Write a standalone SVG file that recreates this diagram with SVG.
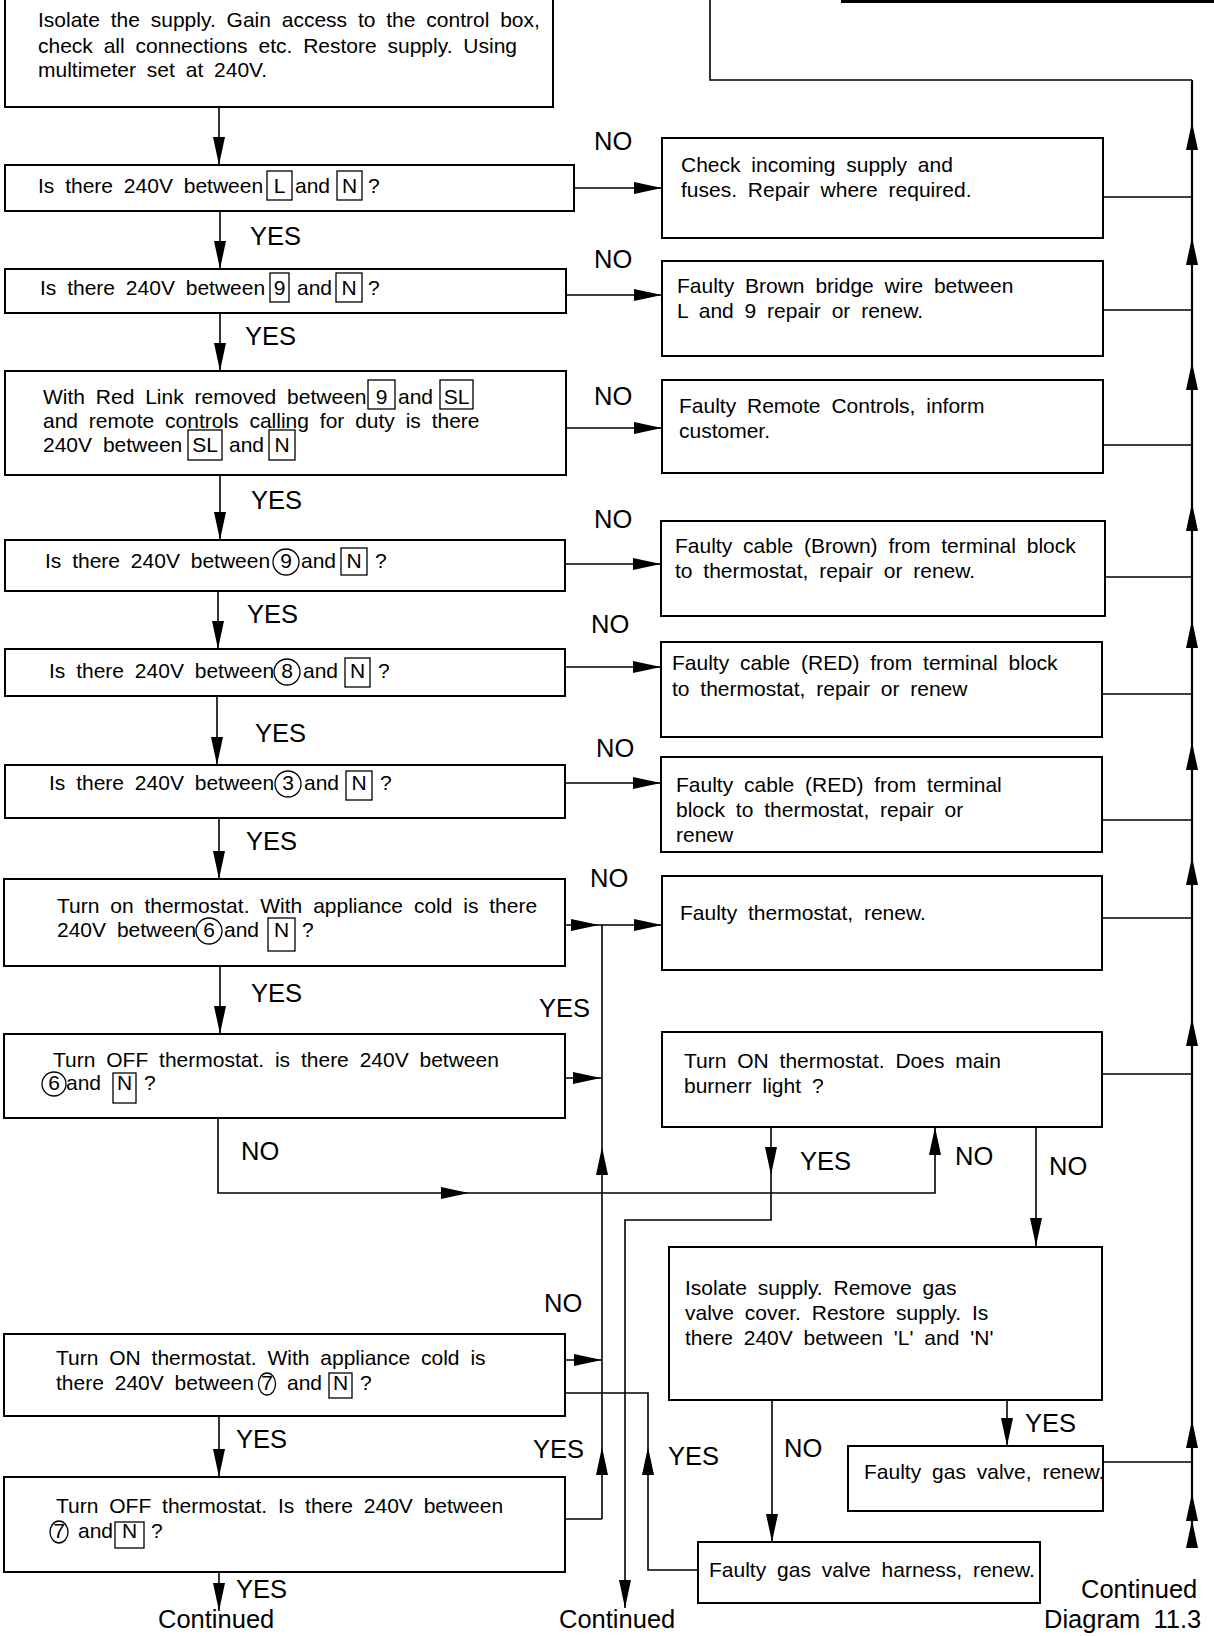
<svg xmlns="http://www.w3.org/2000/svg" xmlns:xlink="http://www.w3.org/1999/xlink" width="1214" height="1636" viewBox="0 0 1214 1636">
<style>
.box{fill:#fff;stroke:#000;stroke-width:2}
.t{font-family:"Liberation Sans",Arial,Helvetica,sans-serif;font-size:21px;word-spacing:5px;fill:#000}
.lb{font-family:"Liberation Sans",Arial,Helvetica,sans-serif;font-size:25.5px;word-spacing:6px;fill:#000}
.m{text-anchor:middle}
.c{fill:none;stroke:#000;stroke-width:1.6}
.cr{fill:none;stroke:#000;stroke-width:2.2}
.tag{fill:none;stroke:#000;stroke-width:1.3}
.ah{fill:#000}
</style>
<defs>
<path id="ah" class="ah" d="M0,0 L-28,-6 L-28,6 Z"/>
</defs>
<rect width="1214" height="1636" fill="#fff"/>

<g id="connectors">
<rect x="841" y="0" width="373" height="3" fill="#000"/>
<polyline class="c" points="710,0 710,80 1192,80"/>
<line class="cr" x1="1192" y1="80" x2="1192" y2="1545"/>
<line class="c" x1="219" y1="107" x2="219" y2="165"/>
<line class="c" x1="220" y1="211" x2="220" y2="269"/>
<line class="c" x1="220" y1="313" x2="220" y2="371"/>
<line class="c" x1="220" y1="475" x2="220" y2="540"/>
<line class="c" x1="218" y1="591" x2="218" y2="649"/>
<line class="c" x1="217" y1="696" x2="217" y2="765"/>
<line class="c" x1="219" y1="818" x2="219" y2="879"/>
<line class="c" x1="220" y1="966" x2="220" y2="1034"/>
<polyline class="c" points="218,1118 218,1193 935,1193 935,1127"/>
<line class="c" x1="219" y1="1416" x2="219" y2="1477"/>
<line class="c" x1="219" y1="1572" x2="219" y2="1611"/>
<line class="c" x1="574" y1="188" x2="662" y2="188"/>
<line class="c" x1="566" y1="295" x2="662" y2="295"/>
<line class="c" x1="566" y1="428" x2="662" y2="428"/>
<line class="c" x1="565" y1="564" x2="661" y2="564"/>
<line class="c" x1="565" y1="667" x2="661" y2="667"/>
<line class="c" x1="565" y1="783" x2="661" y2="783"/>
<line class="c" x1="1103" y1="197" x2="1192" y2="197"/>
<line class="c" x1="1103" y1="310" x2="1192" y2="310"/>
<line class="c" x1="1103" y1="445" x2="1192" y2="445"/>
<line class="c" x1="1105" y1="577" x2="1192" y2="577"/>
<line class="c" x1="1102" y1="694" x2="1192" y2="694"/>
<line class="c" x1="1102" y1="820" x2="1192" y2="820"/>
<line class="c" x1="1102" y1="918" x2="1192" y2="918"/>
<line class="c" x1="1102" y1="1074" x2="1192" y2="1074"/>
<line class="c" x1="1103" y1="1462" x2="1192" y2="1462"/>
<line class="c" x1="565" y1="925" x2="662" y2="925"/>
<line class="c" x1="602" y1="925" x2="602" y2="1519"/>
<line class="c" x1="565" y1="1078" x2="602" y2="1078"/>
<line class="c" x1="565" y1="1360" x2="602" y2="1360"/>
<line class="c" x1="565" y1="1519" x2="602" y2="1519"/>
<polyline class="c" points="771,1127 771,1220 625,1220 625,1608"/>
<line class="c" x1="1036" y1="1127" x2="1036" y2="1247"/>
<line class="c" x1="1007" y1="1400" x2="1007" y2="1446"/>
<line class="c" x1="772" y1="1400" x2="772" y2="1542"/>
<polyline class="c" points="698,1570 648,1570 648,1393 565,1393"/>

<use xlink:href="#ah" transform="translate(219,165) rotate(90)"/>
<use xlink:href="#ah" transform="translate(220,269) rotate(90)"/>
<use xlink:href="#ah" transform="translate(220,371) rotate(90)"/>
<use xlink:href="#ah" transform="translate(220,540) rotate(90)"/>
<use xlink:href="#ah" transform="translate(218,649) rotate(90)"/>
<use xlink:href="#ah" transform="translate(217,765) rotate(90)"/>
<use xlink:href="#ah" transform="translate(219,879) rotate(90)"/>
<use xlink:href="#ah" transform="translate(220,1034) rotate(90)"/>
<use xlink:href="#ah" transform="translate(219,1477) rotate(90)"/>
<use xlink:href="#ah" transform="translate(219,1611) rotate(90)"/>
<use xlink:href="#ah" transform="translate(771,1175) rotate(90)"/>
<use xlink:href="#ah" transform="translate(625,1608) rotate(90)"/>
<use xlink:href="#ah" transform="translate(1036,1246) rotate(90)"/>
<use xlink:href="#ah" transform="translate(1007,1446) rotate(90)"/>
<use xlink:href="#ah" transform="translate(772,1542) rotate(90)"/>

<use xlink:href="#ah" transform="translate(662,188)"/>
<use xlink:href="#ah" transform="translate(662,295)"/>
<use xlink:href="#ah" transform="translate(662,428)"/>
<use xlink:href="#ah" transform="translate(661,564)"/>
<use xlink:href="#ah" transform="translate(661,667)"/>
<use xlink:href="#ah" transform="translate(661,783)"/>
<use xlink:href="#ah" transform="translate(599,925)"/>
<use xlink:href="#ah" transform="translate(662,925)"/>
<use xlink:href="#ah" transform="translate(601,1078)"/>
<use xlink:href="#ah" transform="translate(469,1193)"/>
<use xlink:href="#ah" transform="translate(602,1360)"/>

<use xlink:href="#ah" transform="translate(1192,122) rotate(-90)"/>
<use xlink:href="#ah" transform="translate(1192,237) rotate(-90)"/>
<use xlink:href="#ah" transform="translate(1192,362) rotate(-90)"/>
<use xlink:href="#ah" transform="translate(1192,503) rotate(-90)"/>
<use xlink:href="#ah" transform="translate(1192,620) rotate(-90)"/>
<use xlink:href="#ah" transform="translate(1192,742) rotate(-90)"/>
<use xlink:href="#ah" transform="translate(1192,857) rotate(-90)"/>
<use xlink:href="#ah" transform="translate(1192,1018) rotate(-90)"/>
<use xlink:href="#ah" transform="translate(1192,1420) rotate(-90)"/>
<use xlink:href="#ah" transform="translate(1192,1493) rotate(-90)"/>
<use xlink:href="#ah" transform="translate(1192,1520) rotate(-90)"/>
<use xlink:href="#ah" transform="translate(602,1147) rotate(-90)"/>
<use xlink:href="#ah" transform="translate(935,1127) rotate(-90)"/>
<use xlink:href="#ah" transform="translate(602,1447) rotate(-90)"/>
<use xlink:href="#ah" transform="translate(648,1447) rotate(-90)"/>
</g>

<g id="labels">
<text class="lb" x="250" y="245">YES</text>
<text class="lb" x="245" y="345">YES</text>
<text class="lb" x="251" y="509">YES</text>
<text class="lb" x="247" y="623">YES</text>
<text class="lb" x="255" y="742">YES</text>
<text class="lb" x="246" y="850">YES</text>
<text class="lb" x="251" y="1002">YES</text>
<text class="lb" x="236" y="1448">YES</text>
<text class="lb" x="236" y="1598">YES</text>
<text class="lb" x="594" y="150">NO</text>
<text class="lb" x="594" y="268">NO</text>
<text class="lb" x="594" y="405">NO</text>
<text class="lb" x="594" y="528">NO</text>
<text class="lb" x="591" y="633">NO</text>
<text class="lb" x="596" y="757">NO</text>
<text class="lb" x="590" y="887">NO</text>
<text class="lb" x="241" y="1160">NO</text>
<text class="lb" x="539" y="1017">YES</text>
<text class="lb" x="800" y="1170">YES</text>
<text class="lb" x="955" y="1165">NO</text>
<text class="lb" x="1049" y="1175">NO</text>
<text class="lb" x="544" y="1312">NO</text>
<text class="lb" x="533" y="1458">YES</text>
<text class="lb" x="668" y="1465">YES</text>
<text class="lb" x="784" y="1457">NO</text>
<text class="lb" x="1025" y="1432">YES</text>
<text class="lb" x="158" y="1628">Continued</text>
<text class="lb" x="559" y="1628">Continued</text>
<text class="lb" x="1081" y="1598">Continued</text>
<text class="lb" x="1044" y="1628">Diagram 11.3</text>
</g>

<g id="n_start">
<rect class="box" x="5" y="-5" width="548" height="112"/>
<text class="t" x="38" y="27">Isolate the supply. Gain access to the control box,</text>
<text class="t" x="38" y="53">check all connections etc. Restore supply. Using</text>
<text class="t" x="38" y="77">multimeter set at 240V.</text>
</g>

<g id="n_LN">
<rect class="box" x="5" y="165" width="569" height="46"/>
<text class="t" x="38" y="193">Is there 240V between</text>
<rect class="tag" x="267" y="171" width="25" height="29"/>
<text class="t m" x="279.5" y="193">L</text>
<text class="t" x="295" y="193">and</text>
<rect class="tag" x="337" y="171" width="25" height="29"/>
<text class="t m" x="349.5" y="193">N</text>
<text class="t" x="368" y="193">?</text>
</g>

<g id="n_9N">
<rect class="box" x="5" y="269" width="561" height="44"/>
<text class="t" x="40" y="295">Is there 240V between</text>
<rect class="tag" x="270" y="273" width="19" height="29"/>
<text class="t m" x="279.5" y="295">9</text>
<text class="t" x="297" y="295">and</text>
<rect class="tag" x="336" y="273" width="26" height="29"/>
<text class="t m" x="349" y="295">N</text>
<text class="t" x="368" y="295">?</text>
</g>

<g id="n_redlink">
<rect class="box" x="5" y="371" width="561" height="104"/>
<text class="t" x="43" y="404">With Red Link removed between</text>
<rect class="tag" x="368" y="380" width="27" height="29"/>
<text class="t m" x="381.5" y="404">9</text>
<text class="t" x="398" y="404">and</text>
<rect class="tag" x="440" y="380" width="33" height="29"/>
<text class="t m" x="456.5" y="404">SL</text>
<text class="t" x="43" y="428">and remote controls calling for duty is there</text>
<text class="t" x="43" y="452">240V between</text>
<rect class="tag" x="188" y="430" width="34" height="30"/>
<text class="t m" x="205" y="452">SL</text>
<text class="t" x="229" y="452">and</text>
<rect class="tag" x="269" y="430" width="26" height="30"/>
<text class="t m" x="282" y="452">N</text>
</g>

<g id="n_c9">
<rect class="box" x="5" y="540" width="560" height="51"/>
<text class="t" x="45" y="568">Is there 240V between</text>
<circle class="tag" cx="286" cy="562" r="13"/>
<text class="t m" x="286" y="568">9</text>
<text class="t" x="301" y="568">and</text>
<rect class="tag" x="341" y="548" width="26" height="27"/>
<text class="t m" x="354" y="568">N</text>
<text class="t" x="375" y="568">?</text>
</g>

<g id="n_c8">
<rect class="box" x="5" y="649" width="560" height="47"/>
<text class="t" x="49" y="678">Is there 240V between</text>
<circle class="tag" cx="287" cy="672" r="13"/>
<text class="t m" x="287" y="678">8</text>
<text class="t" x="303" y="678">and</text>
<rect class="tag" x="345" y="658" width="25" height="29"/>
<text class="t m" x="357.5" y="678">N</text>
<text class="t" x="378" y="678">?</text>
</g>

<g id="n_c3">
<rect class="box" x="5" y="765" width="560" height="53"/>
<text class="t" x="49" y="790">Is there 240V between</text>
<circle class="tag" cx="288" cy="784" r="13"/>
<text class="t m" x="288" y="790">3</text>
<text class="t" x="304" y="790">and</text>
<rect class="tag" x="346" y="771" width="26" height="29"/>
<text class="t m" x="359" y="790">N</text>
<text class="t" x="380" y="790">?</text>
</g>

<g id="n_on6">
<rect class="box" x="4" y="879" width="561" height="87"/>
<text class="t" x="57" y="913">Turn on thermostat. With appliance cold is there</text>
<text class="t" x="57" y="937">240V between</text>
<circle class="tag" cx="209" cy="931" r="13"/>
<text class="t m" x="209" y="937">6</text>
<text class="t" x="224" y="937">and</text>
<rect class="tag" x="268" y="918" width="27" height="33"/>
<text class="t m" x="281.5" y="937">N</text>
<text class="t" x="302" y="937">?</text>
</g>

<g id="n_off6">
<rect class="box" x="4" y="1034" width="561" height="84"/>
<text class="t" x="53" y="1067">Turn OFF thermostat. is there 240V between</text>
<circle class="tag" cx="54" cy="1084" r="12"/>
<text class="t m" x="54" y="1090">6</text>
<text class="t" x="66" y="1090">and</text>
<rect class="tag" x="113" y="1073" width="23" height="30"/>
<text class="t m" x="124.5" y="1090">N</text>
<text class="t" x="144" y="1090">?</text>
</g>

<g id="n_on7">
<rect class="box" x="4" y="1334" width="561" height="82"/>
<text class="t" x="56" y="1365">Turn ON thermostat. With appliance cold is</text>
<text class="t" x="56" y="1390">there 240V between</text>
<ellipse class="tag" cx="267" cy="1384" rx="8.5" ry="11"/>
<text class="t m" x="267" y="1390">7</text>
<text class="t" x="287" y="1390">and</text>
<rect class="tag" x="329" y="1373" width="23" height="25"/>
<text class="t m" x="340.5" y="1390">N</text>
<text class="t" x="360" y="1390">?</text>
</g>

<g id="n_off7">
<rect class="box" x="4" y="1477" width="561" height="95"/>
<text class="t" x="56" y="1513">Turn OFF thermostat. Is there 240V between</text>
<ellipse class="tag" cx="59" cy="1532" rx="9" ry="11"/>
<text class="t m" x="59" y="1538">7</text>
<text class="t" x="78" y="1538">and</text>
<rect class="tag" x="115" y="1522" width="29" height="26"/>
<text class="t m" x="129.5" y="1538">N</text>
<text class="t" x="151" y="1538">?</text>
</g>

<g id="n_supply">
<rect class="box" x="662" y="138" width="441" height="100"/>
<text class="t" x="681" y="172">Check incoming supply and</text>
<text class="t" x="681" y="197">fuses. Repair where required.</text>
</g>

<g id="n_bridge">
<rect class="box" x="662" y="261" width="441" height="95"/>
<text class="t" x="677" y="293">Faulty Brown bridge wire between</text>
<text class="t" x="677" y="318">L and 9 repair or renew.</text>
</g>

<g id="n_remote">
<rect class="box" x="662" y="380" width="441" height="93"/>
<text class="t" x="679" y="413">Faulty Remote Controls, inform</text>
<text class="t" x="679" y="438">customer.</text>
</g>

<g id="n_brown">
<rect class="box" x="661" y="521" width="444" height="95"/>
<text class="t" x="675" y="553">Faulty cable (Brown) from terminal block</text>
<text class="t" x="675" y="578">to thermostat, repair or renew.</text>
</g>

<g id="n_red1">
<rect class="box" x="661" y="642" width="441" height="95"/>
<text class="t" x="672" y="670">Faulty cable (RED) from terminal block</text>
<text class="t" x="672" y="696">to thermostat, repair or renew</text>
</g>

<g id="n_red2">
<rect class="box" x="661" y="757" width="441" height="95"/>
<text class="t" x="676" y="792">Faulty cable (RED) from terminal</text>
<text class="t" x="676" y="817">block to thermostat, repair or</text>
<text class="t" x="676" y="842">renew</text>
</g>

<g id="n_thermostat">
<rect class="box" x="662" y="876" width="440" height="94"/>
<text class="t" x="680" y="920">Faulty thermostat, renew.</text>
</g>

<g id="n_burner">
<rect class="box" x="662" y="1032" width="440" height="95"/>
<text class="t" x="684" y="1068">Turn ON thermostat. Does main</text>
<text class="t" x="684" y="1093">burnerr light ?</text>
</g>

<g id="n_gascover">
<rect class="box" x="669" y="1247" width="433" height="153"/>
<text class="t" x="685" y="1295">Isolate supply. Remove gas</text>
<text class="t" x="685" y="1320">valve cover. Restore supply. Is</text>
<text class="t" x="685" y="1345">there 240V between 'L' and 'N'</text>
</g>

<g id="n_gasvalve">
<rect class="box" x="848" y="1446" width="255" height="65"/>
<text class="t" x="864" y="1479">Faulty gas valve, renew.</text>
</g>

<g id="n_harness">
<rect class="box" x="698" y="1542" width="342" height="61"/>
<text class="t" x="709" y="1577">Faulty gas valve harness, renew.</text>
</g>
</svg>
